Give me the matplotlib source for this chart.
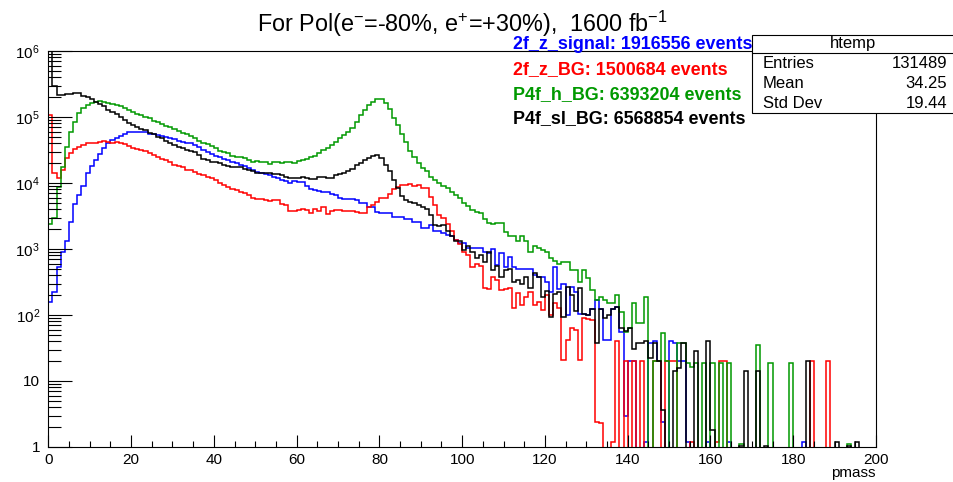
import numpy as np
import matplotlib
matplotlib.use('Agg')
import matplotlib.pyplot as plt
from matplotlib.patches import Rectangle
from matplotlib.lines import Line2D

plt.rcParams['font.family'] = ['Liberation Sans', 'DejaVu Sans']
plt.rcParams['mathtext.fontset'] = 'custom'
plt.rcParams['mathtext.rm'] = 'Liberation Sans'
plt.rcParams['mathtext.it'] = 'Liberation Sans:italic'
plt.rcParams['mathtext.bf'] = 'Liberation Sans:bold'

# ---------------- data (pmass histograms, 200 bins of width 1 from 0 to 200) ----------------
bin_edges = list(range(0, 201))

sig_2f_z = [
    160, 225, 540, 900, 1340, 2600, 4800, 6500, 9000, 14000,
    18000, 22500, 27500, 34000, 40000, 45000, 48000, 51500, 56000, 58500,
    59000, 59000, 58500, 58500, 56000, 55000, 53500, 51000, 49000, 48000,
    46000, 44000, 42000, 41000, 40000, 38000, 35000, 32000, 29000, 27500,
    26000, 25000, 23500, 22000, 21000, 20000, 19000, 18000, 17000, 16000,
    14800, 14000, 13500, 13000, 12500, 12000, 11200, 10800, 10000, 10800,
    10500, 10300, 9000, 8000, 7800, 7600, 7400, 7200, 6800, 6500,
    6000, 5700, 5700, 5700, 5600, 5000, 5000, 4300, 4300, 3600,
    3550, 3550, 3500, 3100, 3100, 3050, 2800, 2800, 2600, 2600,
    2100, 2100, 2300, 1900, 1900, 1750, 1650, 1600, 1370, 1220,
    1220, 1030, 1030, 1030, 1030, 900, 860, 1000, 570, 860,
    540, 760, 540, 500, 500, 500, 500, 400, 370, 370,
    320, 225, 540, 250, 290, 100, 270, 225, 105, 105,
    100, 125, 170, 125, 42, 42, 125, 130, 55, 3,
    20, 20, 0, 0, 1.2, 37, 40, 20, 2.4, 0,
    40, 38, 20, 20, 1.2, 0, 0, 0, 0, 1.2,
    0, 0, 0, 0, 1.2, 0, 0, 0, 0, 0,
    0, 0, 0, 0, 0, 0, 0, 0, 0, 0,
    0, 0, 1.2, 0, 0, 0, 0, 0, 0, 0,
    0, 0, 0, 0, 0, 0, 0, 0, 0, 0,
]

bg_2f_z = [
    107000, 14000, 11800, 15500, 23700, 28000, 32400, 35500, 37600, 40000,
    40000, 41000, 42000, 43000, 42000, 41000, 42500, 41000, 39000, 36000,
    34000, 33000, 31600, 31000, 28000, 26500, 24500, 23000, 22500, 20500,
    18700, 18000, 17300, 16000, 15800, 14700, 13700, 13000, 12500, 11800,
    11000, 10000, 9400, 8800, 8000, 7700, 7400, 7000, 6500, 6000,
    5800, 5700, 5500, 5400, 5500, 5500, 4800, 4700, 3700, 3800,
    3900, 4100, 3900, 3500, 4000, 3700, 4400, 3400, 3700, 3850,
    3850, 3800, 3700, 3700, 3600, 3500, 3500, 4400, 4700, 5200,
    5900, 5900, 6800, 8000, 8800, 9300, 9400, 9500, 9100, 9300,
    8400, 8400, 6200, 4700, 3300, 2900, 2400, 1900, 1370, 1200,
    900, 800, 540, 600, 560, 260, 250, 380, 340, 240,
    250, 260, 126, 215, 142, 190, 225, 140, 160, 118,
    200, 100, 150, 126, 21, 42, 63, 60, 21, 89,
    87, 85, 2.4, 2.3, 0, 0, 1.2, 40, 0, 20,
    0, 20, 0, 20, 0, 0, 20, 20, 0, 20,
    20, 20, 0, 0, 0, 1.2, 0, 0, 0, 0,
    0, 1.2, 20, 20, 0, 0, 0, 0, 0, 0,
    0, 0, 0, 0, 0, 0, 0, 0, 0, 0,
    0, 0, 0, 0, 20, 0, 0, 0, 20, 0,
    0, 0, 0, 0, 0, 0, 0, 0, 0, 0,
]

bg_4f_h = [
    2370, 2900, 8700, 17300, 35500, 60000, 85000, 114000, 135000, 152000,
    161000, 171000, 172000, 166000, 161000, 158000, 152000, 145000, 136000, 128000,
    120000, 112000, 106000, 101000, 95000, 88000, 83000, 78000, 74000, 70000,
    65000, 61000, 57000, 55000, 51000, 48000, 44000, 41000, 39000, 36000,
    34000, 31000, 29000, 28000, 26000, 25000, 24500, 23600, 22000, 21000,
    21500, 20500, 20500, 19500, 20500, 21000, 20000, 20500, 20500, 20000,
    21500, 22500, 23500, 25000, 26000, 28500, 31500, 34500, 38000, 42000,
    47500, 53000, 60000, 68000, 85000, 107000, 128000, 152000, 171000, 185000,
    185000, 161000, 130000, 95000, 75000, 56000, 42000, 31000, 25000, 20000,
    17000, 15000, 12500, 11000, 10000, 9000, 8400, 7200, 6500, 5900,
    5000, 4500, 3900, 3600, 3500, 2800, 2500, 2400, 2450, 2450,
    1800, 1600, 1550, 1300, 1600, 1300, 900, 1100, 1050, 950,
    900, 720, 650, 600, 640, 640, 480, 480, 320, 480,
    360, 240, 170, 190, 170, 150, 150, 200, 110, 56,
    63, 150, 75, 75, 190, 0, 20, 20, 54, 20,
    0, 0, 37, 37, 19, 16.5, 19, 0, 19, 0,
    19, 0, 19, 0, 19, 0, 0, 1.1, 0, 0,
    0, 35, 0, 0, 19, 0, 0, 0, 0, 19,
    0, 0, 0, 0, 0, 0, 0, 0, 0, 0,
    0, 0, 0, 1.1, 0, 0, 0, 0, 0, 0,
]

bg_4f_sl = [
    2000000, 290000, 218000, 215000, 220000, 220000, 234000, 230000, 208000, 200000,
    185000, 170000, 157000, 146000, 128000, 120000, 110000, 99000, 90000, 82000,
    76000, 71000, 65000, 64000, 58000, 55000, 50000, 47500, 44000, 41000,
    38000, 35500, 34000, 31500, 31000, 29000, 26500, 23000, 22000, 21000,
    20500, 20000, 19000, 18000, 17700, 17500, 17300, 16500, 15700, 15000,
    14000, 14200, 14400, 14000, 13700, 13700, 13000, 12500, 12000, 11800,
    11800, 12500, 12000, 11400, 11400, 12500, 12500, 12000, 12000, 13200,
    13500, 14000, 15000, 16500, 18700, 20000, 22000, 24000, 26000, 27000,
    24000, 19000, 15000, 11000, 8400, 6300, 5600, 5200, 4900, 4650,
    4300, 4100, 3300, 2300, 2200, 2300, 1850, 1550, 1300, 1300,
    970, 1100, 900, 720, 800, 640, 900, 480, 560, 380,
    480, 490, 320, 340, 290, 370, 260, 430, 370, 190,
    230, 94, 210, 220, 94, 270, 200, 113, 260, 105,
    100, 125, 37, 125, 90, 100, 125, 134, 63, 58,
    63, 31, 37, 37, 40, 22, 37, 20, 3.6, 0,
    0, 14, 16, 37, 0, 0, 28, 0, 0, 40,
    1.8, 0, 0, 0, 0, 0, 0, 1.05, 14, 0,
    0, 14, 0, 1.05, 0, 0, 0, 0, 0, 0,
    0, 0, 0, 20, 0, 0, 0, 0, 0, 0,
    1.2, 0, 0, 1.05, 0, 1.2, 0, 0, 0, 0,
]

series_labels = ["2f_z_signal: 1916556 events", "2f_z_BG: 1500684 events",
                 "P4f_h_BG: 6393204 events", "P4f_sl_BG: 6568854 events"]
series_colors = ["#0000ff", "#ff0000", "#009900", "#000000"]

x_ticks = [0, 20, 40, 60, 80, 100, 120, 140, 160, 180, 200]
y_ticks = [1, 10, 100, 1000, 10000, 100000, 1000000]
y_tick_labels = ["1", "10", "$10^{2}$", "$10^{3}$", "$10^{4}$", "$10^{5}$", "$10^{6}$"]

stats_title = "htemp"
stats_rows = [("Entries", "131489"), ("Mean", "34.25"), ("Std Dev", "19.44")]

# ---------------- figure ----------------
W, H = 954, 482
fig = plt.figure(figsize=(W / 100, H / 100), dpi=100)
x0, x1, ytop, ybot = 48.3, 876.0, 51.0, 447.0
ax = fig.add_axes([x0 / W, 1 - ybot / H, (x1 - x0) / W, (ybot - ytop) / H])

for vals, col in zip([sig_2f_z, bg_2f_z, bg_4f_h, bg_4f_sl], series_colors):
    ax.stairs(np.asarray(vals, dtype=float), bin_edges, color=col, lw=1.1,
              baseline=None)

ax.set_yscale('log')
ax.set_xlim(0, 200)
ax.set_ylim(1, 1e6)

ax.set_xticks(x_ticks)
ax.set_xticklabels([str(t) for t in x_ticks])
ax.set_xticks(list(range(0, 201, 5)), minor=True)
ax.set_yticks(y_ticks)
ax.set_yticklabels(y_tick_labels)
minor_y = [m * 10 ** d for d in range(0, 6) for m in range(2, 10)]
ax.set_yticks(minor_y, minor=True)
ax.set_yticklabels([], minor=True)

ax.tick_params(which='both', direction='in', top=False, right=False,
               colors='black', width=0.8, labelsize=11)
ax.tick_params(axis='y', which='major', length=17, pad=6)
ax.tick_params(axis='y', which='minor', length=9.2)
ax.tick_params(axis='x', which='major', length=8.6, pad=4)
ax.tick_params(axis='x', which='minor', length=4.3)
for s in ax.spines.values():
    s.set_linewidth(0.8)
    s.set_color('black')

fig.text(x1 / W, 1 - 473 / H, "pmass", ha='right', va='center', fontsize=11)

fig.text(462 / W, 1 - 31.5 / H,
         "For Pol(e$^{-}$=-80%, e$^{+}$=+30%),  1600 fb$^{-1}$",
         ha='center', va='baseline', fontsize=16.8)

for i, (lab, col) in enumerate(zip(series_labels, series_colors)):
    fig.text(513 / W, 1 - (44.5 + 24.8 * i) / H, lab, color=col,
             fontsize=12.9, fontweight='bold', ha='left', va='center')

# stats box
bx0, bx1, by0, by1 = 752, 962, 35, 113
fig.patches.append(Rectangle((bx0 / W, 1 - by1 / H), (bx1 - bx0) / W, (by1 - by0) / H,
                             transform=fig.transFigure, facecolor='white',
                             edgecolor='black', lw=0.8, zorder=5))
fig.lines.append(Line2D([bx0 / W, bx1 / W], [1 - 53 / H, 1 - 53 / H],
                        transform=fig.transFigure, color='black', lw=0.8, zorder=6))
fig.text(853 / W, 1 - 43.5 / H, stats_title, ha='center', va='center',
         fontsize=12, zorder=7)
for i, (k, v) in enumerate(stats_rows):
    yy = 1 - (64 + 19.5 * i) / H
    fig.text(763 / W, yy, k, ha='left', va='center', fontsize=12, zorder=7)
    fig.text(947 / W, yy, v, ha='right', va='center', fontsize=12, zorder=7)

fig.savefig('out.png', dpi=100)
